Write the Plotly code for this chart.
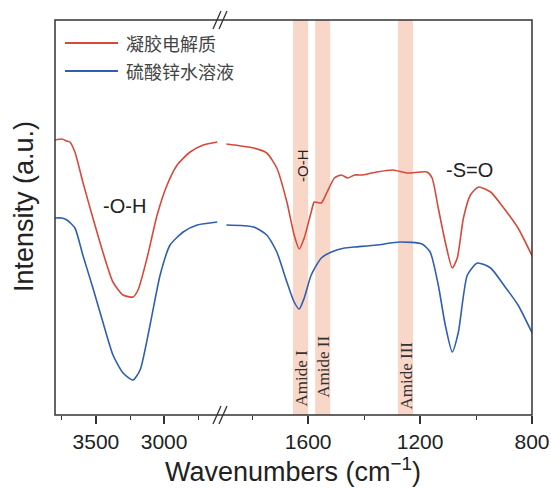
import plotly.graph_objects as go

# ---- data ----
# left segment (high wavenumber)
red_left_w = [3800, 3750, 3713, 3691, 3654, 3596, 3522, 3449, 3375, 3301, 3228, 3191, 3125, 3051, 2978, 2904, 2809, 2713, 2610]
red_left_v = [275, 276, 274, 273, 263, 233, 197, 163, 133, 120, 118, 125, 157, 200, 230, 250, 263, 270, 273]
blue_left_w = [3801, 3750, 3713, 3654, 3596, 3522, 3449, 3375, 3301, 3228, 3176, 3103, 3029, 2956, 2860, 2757, 2610]
blue_left_v = [197, 197, 195, 187, 160, 127, 93, 60, 42, 35, 45, 90, 140, 170, 183, 190, 193]

# right segment (low wavenumber)
red_right_w = [1892, 1795, 1748, 1712, 1676, 1650, 1632, 1614, 1589, 1578, 1553, 1532, 1506, 1481, 1459, 1434, 1405, 1355, 1297, 1247, 1175, 1157, 1135, 1110, 1085, 1067, 1045, 1020, 991, 948, 901, 850, 796]
red_right_v = [271, 267, 262, 247, 213, 180, 166, 177, 203, 213, 212, 223, 237, 240, 237, 240, 240, 243, 245, 242, 243, 237, 207, 173, 147, 157, 197, 220, 228, 223, 207, 187, 157]
blue_right_w = [1892, 1795, 1748, 1712, 1676, 1650, 1632, 1614, 1589, 1553, 1517, 1470, 1434, 1355, 1272, 1193, 1164, 1135, 1110, 1085, 1063, 1031, 995, 948, 901, 850, 796]
blue_right_v = [190, 188, 180, 163, 133, 113, 106, 117, 140, 157, 163, 167, 168, 170, 173, 171, 163, 130, 90, 63, 83, 140, 152, 147, 130, 110, 80]

series_names = ["凝胶电解质", "硫酸锌水溶液"]
series_colors = ["#d64a3b", "#2f5fb3"]

bands = [(1654, 1600, "Amide I"), (1575, 1521, "Amide II"), (1279, 1225, "Amide III")]

left_ticks = [3500, 3000]
right_ticks = [1600, 1200, 800]

# ---- figure ----
W, H = 551, 489
L, R, T, B = 55, 532, 20, 415

def px(x):
    return (x - L) / (R - L)

def py(y):
    return (B - y) / (B - T)

fig = go.Figure()

for w, v, name, col, ax in [
    (red_left_w, red_left_v, series_names[0], series_colors[0], "x"),
    (blue_left_w, blue_left_v, series_names[1], series_colors[1], "x"),
    (red_right_w, red_right_v, series_names[0], series_colors[0], "x2"),
    (blue_right_w, blue_right_v, series_names[1], series_colors[1], "x2"),
]:
    fig.add_trace(go.Scatter(x=w, y=v, mode="lines", name=name, xaxis=ax, yaxis="y",
                             line=dict(color=col, width=1.6, shape="spline", smoothing=0.6),
                             showlegend=False))

shapes = []
annotations = []

def ann(**kw):
    kw.setdefault("xanchor", "center")
    kw.setdefault("yanchor", "middle")
    kw.setdefault("showarrow", False)
    annotations.append(kw)

# bands
label_y = [378, 367, 376]
for (x0, x1, lab), ly in zip(bands, label_y):
    shapes.append(dict(type="rect", xref="x2", yref="paper", x0=x0, x1=x1, y0=0, y1=1,
                       fillcolor="#f8d3c2", line=dict(width=0), layer="below", opacity=0.9))
    ann(x=(x0 + x1) / 2, xref="x2", y=py(ly), yref="paper", text=lab, textangle=-90,
        font=dict(family="Liberation Serif, DejaVu Serif", size=17, color="#333"))

# frame
shapes.append(dict(type="rect", xref="paper", yref="paper", x0=0, x1=1, y0=0, y1=1,
                   line=dict(color="#333", width=1.5), fillcolor="rgba(0,0,0,0)", layer="above"))

# break marks
bx = 220
for dx in (-3, 3):
    shapes.append(dict(type="line", xref="paper", yref="paper",
                       x0=px(bx + dx - 4), y0=py(424), x1=px(bx + dx + 4), y1=py(406),
                       line=dict(color="#333", width=1.3)))
    shapes.append(dict(type="line", xref="paper", yref="paper",
                       x0=px(bx + dx - 4), y0=py(29), x1=px(bx + dx + 4), y1=py(11),
                       line=dict(color="#333", width=1.3)))

# legend (manual)
for i, (name, col) in enumerate(zip(series_names, series_colors)):
    yy = 43 + 28 * i
    shapes.append(dict(type="line", xref="paper", yref="paper", x0=px(65), x1=px(118),
                       y0=py(yy), y1=py(yy), line=dict(color=col, width=1.8)))
    ann(x=px(124), y=py(yy), xref="paper", yref="paper", text=name, xanchor="left",
        font=dict(family="Noto Sans CJK SC", size=18, color="#444"))

# peak labels
ann(x=px(124), y=py(206), xref="paper", yref="paper", text="-O-H",
    font=dict(family="Liberation Sans, Arial", size=20, color="#222"))
ann(x=px(469), y=py(170), xref="paper", yref="paper", text="-S=O",
    font=dict(family="Liberation Sans, Arial", size=20, color="#222"))
ann(x=px(302), y=py(166), xref="paper", yref="paper", text="-O-H", textangle=-90,
    font=dict(family="Liberation Sans, Arial", size=15, color="#222"))

# y title
ann(x=px(24), y=py(207), xref="paper", yref="paper", text="Intensity (a.u.)", textangle=-90,
    font=dict(family="Liberation Sans, Arial", size=27, color="#222"))
# x title
ann(x=px(293), y=py(470), xref="paper", yref="paper",
    text="Wavenumbers (cm<sup>−1</sup>)",
    font=dict(family="Liberation Sans, Arial", size=27, color="#222"))

brk = px(bx)
axis_common = dict(showgrid=False, zeroline=False, showline=False, ticks="outside",
                   ticklen=8, tickwidth=1.5, tickcolor="#333", automargin=False,
                   tickfont=dict(family="Liberation Sans, Arial", size=21, color="#222"),
                   anchor="y")

fig.update_layout(
    width=W, height=H,
    margin=dict(l=L, r=W - R, t=T, b=H - B, autoexpand=False),
    paper_bgcolor="white", plot_bgcolor="white",
    xaxis=dict(domain=[0, brk], range=[3800, 2590], tickmode="array", tickvals=left_ticks,
               minor=dict(ticks="outside", ticklen=4, tickwidth=1.2, tickcolor="#333",
                          tickmode="array", tickvals=[3750, 3250, 2750]),
               **axis_common),
    xaxis2=dict(domain=[brk, 1], range=[1915, 800], tickmode="array", tickvals=right_ticks,
                minor=dict(ticks="outside", ticklen=4, tickwidth=1.2, tickcolor="#333",
                           tickmode="array", tickvals=[1800, 1400, 1000]),
                **axis_common),
    yaxis=dict(range=[0, 395], showgrid=False, zeroline=False, showline=False,
               showticklabels=False, ticks="", automargin=False),
    shapes=shapes,
    annotations=annotations,
    showlegend=False,
)

fig.write_html("out.html")
